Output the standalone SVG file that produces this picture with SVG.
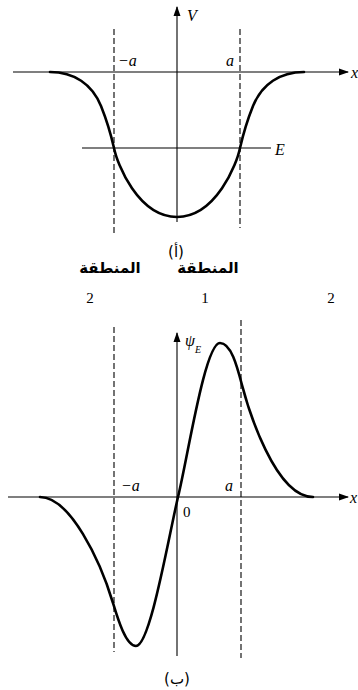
<svg xmlns="http://www.w3.org/2000/svg" width="358" height="690" viewBox="0 0 358 690">
<style>
.ax{stroke:#000;stroke-width:1.1;fill:none}
.dash{stroke:#000;stroke-width:1.1;fill:none;stroke-dasharray:6 3}
.cv{stroke:#000;stroke-width:2.6;fill:none;stroke-linecap:round}
.v{font-family:"Liberation Serif",serif;font-style:italic;font-size:16px;fill:#000}
.n{font-family:"Liberation Serif",serif;font-size:15px;fill:#000}
.ar{font-family:"DejaVu Sans",sans-serif;font-weight:bold;font-size:15px;fill:#000}
.lb{font-family:"DejaVu Sans",sans-serif;font-size:15px;fill:#000}
</style>
<defs>
<marker id="arr" markerWidth="10" markerHeight="8" refX="9" refY="4" orient="auto" markerUnits="userSpaceOnUse">
<path d="M0,0.5 L10,4 L0,7.5 Z" fill="#000"/>
</marker>
</defs>
<g id="connectors">
<line class="ax" x1="13" y1="72" x2="348" y2="72" marker-end="url(#arr)"/>
<line class="ax" x1="177" y1="222" x2="177" y2="7" marker-end="url(#arr)"/>
<line class="ax" x1="82" y1="148" x2="271" y2="148"/>
<line class="dash" x1="114" y1="29" x2="114" y2="235"/>
<line class="dash" x1="240" y1="29" x2="240" y2="228"/>
<line class="ax" x1="8" y1="497" x2="348" y2="497" marker-end="url(#arr)"/>
<line class="ax" x1="177" y1="656" x2="177" y2="333" marker-end="url(#arr)"/>
<line class="dash" x1="114" y1="327" x2="114" y2="652"/>
<line class="dash" x1="241" y1="320" x2="241" y2="658"/>
</g>
<g id="potential">
<path class="cv" d="M50,72 C74,72 92,84 101,106 C105,116 109,126 114,148 C117,163.5 138,217 177,217 C216,217 237,163.5 240,148 C245,126 249,116 253,106 C262,84 280,72 304,72"/>
</g>
<g id="wavefunction">
<path class="cv" d="M40,497 C70,497 100,560 113,603 C118,619.5 126,646 136,646 C150,646 168,540 178,497 C188,456 205,343 220,343 C231,343 237,366 242,385 C248,408 275,497 313,497"/>
</g>
<g id="labels-a">
<text class="v" x="187" y="21">V</text>
<text class="v" x="351" y="78">x</text>
<text class="v" x="118" y="66">−a</text>
<text class="v" x="226" y="66">a</text>
<text class="v" x="275" y="155">E</text>
<text class="lb" x="176" y="257" text-anchor="middle">(أ)</text>
</g>
<g id="regions">
<text class="ar" x="110" y="273" text-anchor="middle">المنطقة</text>
<text class="ar" x="208" y="273" text-anchor="middle">المنطقة</text>
<text class="n" x="90" y="303" text-anchor="middle">2</text>
<text class="n" x="205" y="303" text-anchor="middle">1</text>
<text class="n" x="331" y="303" text-anchor="middle">2</text>
</g>
<g id="labels-b">
<text class="v" x="185" y="346">ψ</text>
<text class="v" x="195" y="353" style="font-size:10px">E</text>
<text class="v" x="350" y="503">x</text>
<text class="v" x="121" y="491">−a</text>
<text class="v" x="225" y="491">a</text>
<text class="n" x="183" y="517">0</text>
<text class="lb" x="177" y="684" text-anchor="middle">(ب)</text>
</g>
</svg>
